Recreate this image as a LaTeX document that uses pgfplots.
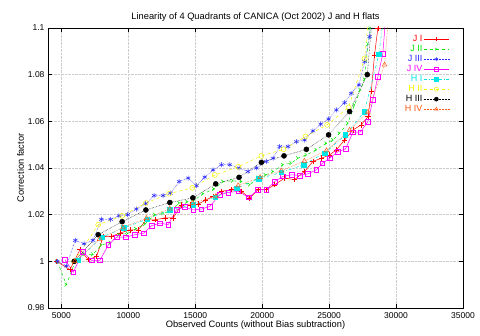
\documentclass[border=0pt]{standalone}
\usepackage{pgfplots}
\pgfplotsset{compat=1.18}
\usepackage{fontspec}
\setmainfont{Liberation Sans}
\definecolor{cJI}{RGB}{255,0,0}
\definecolor{cJII}{RGB}{0,230,0}
\definecolor{cJIII}{RGB}{40,40,255}
\definecolor{cJIV}{RGB}{255,0,255}
\definecolor{cHI}{RGB}{0,230,230}
\definecolor{cHII}{RGB}{245,245,0}
\definecolor{cHIII}{RGB}{0,0,0}
\definecolor{cHIV}{RGB}{255,90,20}
\begin{document}
\begin{tikzpicture}
\useasboundingbox (0,0) rectangle (480pt,336pt);
\begin{axis}[
  at={(48pt,28pt)}, anchor=south west,
  scale only axis, width=415pt, height=280pt,
  xmin=4000, xmax=35000, ymin=0.98, ymax=1.1,
  xtick={5000,10000,...,35000},
  ytick={0.98,1,1.02,1.04,1.06,1.08,1.1},
  yticklabels={0.98,1,1.02,1.04,1.06,1.08,1.1},
  scaled ticks=false,
  /pgf/number format/1000 sep={},
  /pgf/number format/assume math mode=true,
  tick align=inside, major tick length=4pt,
  xtick pos=both, ytick pos=both,
  tick style={black, line width=0.5pt},
  axis line style={line width=0.7pt},
  grid=major, grid style={densely dotted, gray!40, line width=0.4pt},
  ticklabel style={font=\fontsize{8.5}{9}\selectfont},
  xticklabel style={yshift=-1pt},
  title={Linearity of 4 Quadrants of CANICA (Oct 2002) J and H flats},
  title style={font=\fontsize{9.3}{10}\selectfont, yshift=-3pt},
  xlabel={Observed Counts (without Bias subtraction)},
  ylabel={Correction factor},
  label style={font=\fontsize{9.3}{10}\selectfont},
  xlabel style={yshift=5pt},
  ylabel style={yshift=-3pt},
  legend style={at={(rel axis cs:0.975,0.985)}, anchor=north east, draw=none, fill=none,
    font=\fontsize{9}{9}\selectfont, row sep=0.3pt, nodes={inner sep=1pt}},
  legend plot pos=right, legend cell align=right,
  legend image code/.code={\draw[mark repeat=2,mark phase=2, mark size=2pt] plot coordinates {(0cm,0cm) (0.45cm,0cm) (0.9cm,0cm)};},
  every axis plot/.append style={line width=0.5pt},
]
% J I
\addplot[cJI, solid, mark=+, mark size=2.7pt] coordinates {
(4650,1.000) (5640,0.9964) (6390,1.005) (7010,1.0007) (7630,1.0021) (8130,1.0107) (8750,1.0107) (9370,1.0121) (10120,1.0135) (10740,1.0135) (11360,1.0178) (11980,1.0178) (12730,1.0186) (13350,1.0186) (13970,1.0242) (14590,1.0242) (15210,1.0245) (15770,1.0262) (16330,1.0278) (16960,1.030) (17700,1.0307) (18450,1.030) (19070,1.0271) (19690,1.0307) (20310,1.0307) (20930,1.0328) (21680,1.0357) (22420,1.035) (23170,1.0385) (23790,1.0428) (24420,1.0442) (25040,1.0456) (25540,1.0478) (26160,1.052) (26780,1.0563) (27400,1.0585) (27900,1.062) (28150,1.0727) (28390,1.0884) (28640,1.0999) (28900,1.115)};
\addlegendentry{\textcolor{cJI}{J I}}
% J II
\addplot[cJII, dashed, mark=x, mark size=2.5pt] coordinates {
(4700,1.000) (5370,0.990) (6040,1.000) (6700,1.003) (7360,1.003) (8000,1.007) (8680,1.008) (9300,1.0114) (9950,1.012) (10570,1.014) (11240,1.016) (11980,1.020) (12600,1.0205) (13100,1.0214) (13800,1.025) (14400,1.0255) (14970,1.0264) (15590,1.029) (16400,1.031) (17080,1.0342) (17800,1.0345) (18450,1.0342) (19070,1.0328) (19690,1.0359) (20250,1.037) (20810,1.0385) (21550,1.0414) (22180,1.0421) (22670,1.0442) (23300,1.0456) (24040,1.0478) (24790,1.0506) (25290,1.052) (25780,1.0549) (26400,1.0592) (26900,1.067) (27330,1.0735) (27650,1.078) (27900,1.093) (28080,1.0999) (28300,1.115)};
\addlegendentry{\textcolor{cJII}{J II}}
% J III
\addplot[cJIII, densely dotted, mark=asterisk, mark size=2.5pt, mark options={solid}] coordinates {
(4700,1.000) (5370,0.998) (6040,1.009) (6690,1.0075) (7360,1.009) (7980,1.018) (8680,1.018) (9300,1.0195) (9950,1.020) (10600,1.0224) (11300,1.0247) (11930,1.0282) (12600,1.0282) (13150,1.0292) (13800,1.0342) (14470,1.0357) (15090,1.0324) (15710,1.0361) (16330,1.0392) (16960,1.0414) (17580,1.0414) (18270,1.040) (18940,1.0385) (19570,1.040) (20310,1.0428) (20810,1.0442) (21310,1.0492) (21930,1.0492) (22550,1.0513) (23170,1.052) (23790,1.0559) (24370,1.0588) (24960,1.061) (25540,1.0649) (26160,1.068) (26650,1.072) (27230,1.0756) (27650,1.0856) (28020,1.0963) (28300,1.115)};
\addlegendentry{\textcolor{cJIII}{J III}}
% J IV
\addplot[cJIV, solid, mark=square, mark size=2.3pt] coordinates {
(5270,1.0007) (5890,0.9953) (6600,1.004) (7260,1.0004) (7880,1.0004) (8500,1.007) (9130,1.0104) (9820,1.0104) (10490,1.0114) (11160,1.0121) (11740,1.0153) (12360,1.0164) (12980,1.0157) (13600,1.0221) (14220,1.0233) (14840,1.022) (15460,1.0224) (16080,1.0235) (16830,1.0285) (17450,1.0295) (18200,1.030) (19000,1.0274) (19690,1.0307) (20310,1.0307) (20930,1.0342) (21550,1.0364) (22200,1.0371) (22800,1.0368) (23420,1.0375) (24040,1.0392) (24500,1.042) (25040,1.0442) (25660,1.047) (26230,1.0482) (26780,1.0554) (27330,1.0554) (27900,1.0599) (28270,1.0692) (28640,1.0792) (29010,1.089) (29300,1.11)};
\addlegendentry{\textcolor{cJIV}{J IV}}
% H I
\addplot[cHI, dashdotted, mark=square*, mark size=2.3pt, mark options={solid}] coordinates {
(6210,1.0004) (8000,1.0103) (9670,1.0143) (11410,1.0181) (13100,1.0221) (14840,1.0242) (16480,1.0275) (18120,1.0314) (19760,1.0354) (21430,1.0381) (23100,1.0414) (24670,1.0464) (26210,1.0542) (27620,1.0640) (28720,1.0887) (29600,1.13)};
\addlegendentry{\textcolor{cHI}{H I}}
% H II
\addplot[cHII, dashed, mark=o, mark size=2.5pt, mark options={solid}] coordinates {
(5960,1.000) (7750,1.0157) (9540,1.0195) (11310,1.025) (13050,1.029) (14780,1.0315) (16460,1.037) (18200,1.0405) (19940,1.0452) (21600,1.048) (23250,1.0535) (24850,1.0585) (26450,1.066) (27650,1.087) (28700,1.15)};
\addlegendentry{\textcolor{cHII}{H II}}
% H III
\addplot[cHIII, densely dotted, mark=*, mark size=2.5pt, mark options={solid}] coordinates {
(5960,1.000) (7750,1.0114) (9540,1.017) (11310,1.022) (13100,1.0252) (14820,1.0272) (16530,1.0332) (18270,1.036) (19940,1.0424) (21630,1.0452) (23300,1.048) (24960,1.0542) (26530,1.0642) (27850,1.080) (29000,1.157)};
\addlegendentry{\textcolor{cHIII}{H III}}
% H IV
\addplot[cHIV, densely dotted, mark=triangle, mark size=2.7pt, mark options={solid}] coordinates {
(6000,1.000) (7850,1.0095) (9600,1.0145) (11350,1.0185) (13100,1.0225) (14800,1.025) (16530,1.0278) (18200,1.0325) (19850,1.036) (21430,1.0388) (23150,1.043) (24800,1.0475) (26530,1.0563) (27900,1.064) (29140,1.0842) (29800,1.13)};
\addlegendentry{\textcolor{cHIV}{H IV}}
\end{axis}
\end{tikzpicture}
\end{document}
